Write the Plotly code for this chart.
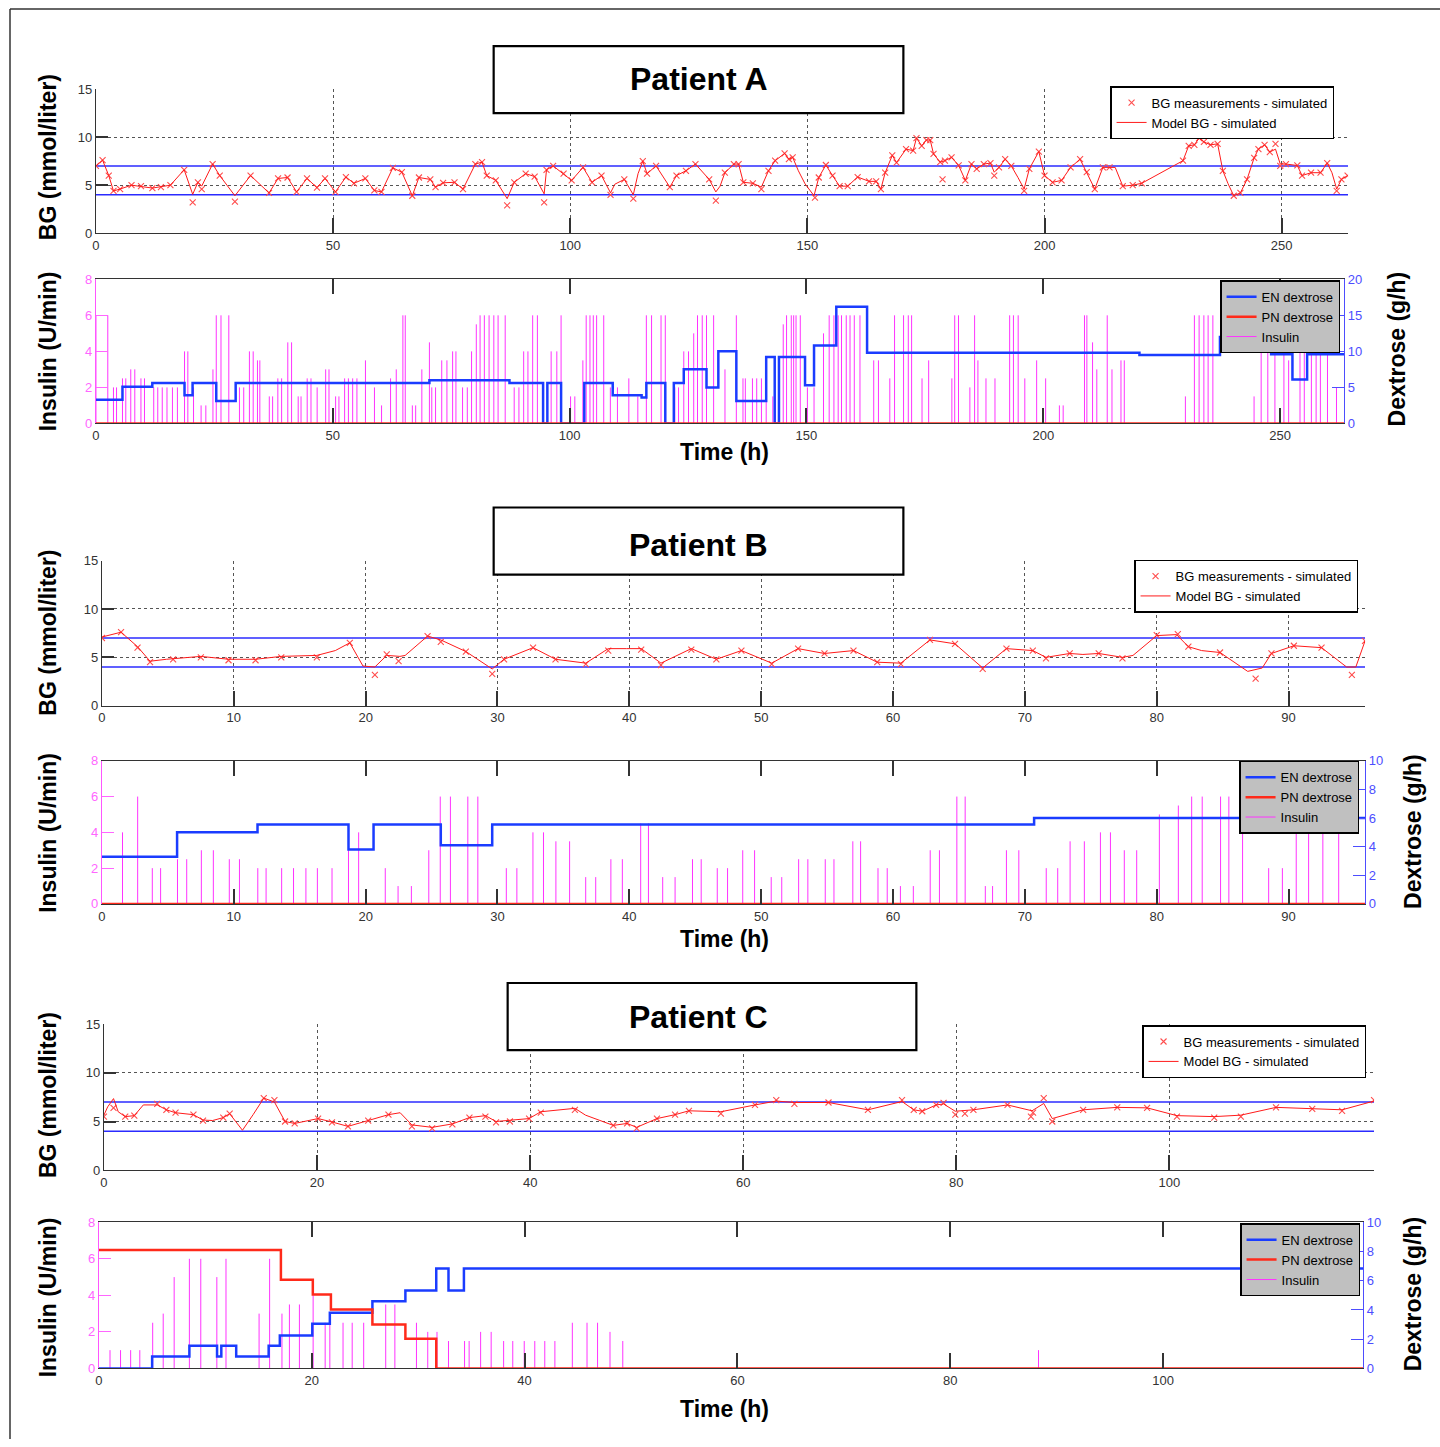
import plotly.graph_objects as go

W, H = 1440, 1447
# small calibration of the photographed page against reference pixel positions
Y_SCALE, Y_SHIFT, X_SHIFT = 0.9886, 8.0, 3.0
FONT_NARROW = "Liberation Sans Narrow, Arial Narrow, Liberation Sans, Arial, sans-serif"
FONT_BOLD = "Liberation Sans, Arial, Helvetica, sans-serif"

BG_LOW, BG_HIGH = 4, 7
BG_TICKS = [0, 5, 10, 15]
INS_TICKS = [0, 2, 4, 6, 8]

# ---------------- Patient A ----------------
a_bg_t = [0, 1.4, 2.7, 3.7, 5.1, 7.5, 11.9, 15.7, 18.6, 20.4, 21.5, 22.3, 24.6, 26.1, 29.3, 32.6, 36.5, 38.4, 40.4, 42.3,
          44.5, 46.6, 48.3, 50.5, 52.7, 54.4, 56.8, 58.7, 60.2, 62.6, 64.5, 66.7, 68.1, 70.5, 71.6, 73.2, 75.6, 77.4, 80.0, 81.4,
          82.4, 84.3, 86.7, 88.2, 90.6, 92.5, 94.5, 95.0, 96.4, 98.6, 100.3, 102.7, 104.6, 106.6, 108.5, 109.4, 111.4, 113.3, 114.3, 115.3,
          116.2, 118.1, 121.0, 122.4, 124.4, 126.4, 127.3, 129.3, 130.7, 131.6, 132.6, 134.5, 135.5, 136.5, 138.5, 140.3, 141.8, 143.2, 145.2, 146.1,
          146.9, 148.1, 149.5, 151.4, 152.4, 153.9, 155.3, 156.8, 158.5, 160.6, 163.0, 164.5, 165.5, 166.4, 167.9, 168.8, 170.8, 172.3, 173.0, 174.1,
          175.1, 175.9, 176.6, 178.0, 179.0, 180.4, 181.9, 183.3, 184.6, 185.7, 187.2, 188.6, 189.4, 190.4, 191.7, 193.0, 194.4, 195.7, 196.8, 198.8,
          200.0, 201.7, 203.6, 205.5, 207.5, 208.9, 210.6, 212.3, 213.7, 214.9, 216.5, 218.6, 220.5, 229.2, 230.4, 231.6, 232.6, 233.6, 235.0, 236.5,
          237.6, 238.7, 239.9, 241.3, 242.7, 244.2, 245.1, 246.4, 247.5, 248.7, 249.7, 250.9, 253.3, 254.3, 256.2, 258.2, 259.6, 260.6, 261.6, 262.6,
          263.9]
a_bg_v = [7.0, 7.6, 6.0, 4.4, 4.6, 5.0, 4.7, 5.0, 6.6, 4.05, 5.3, 4.9, 7.2, 6.0, 3.9, 6.0, 4.2, 5.7, 5.8, 4.3,
          5.7, 4.75, 5.7, 4.3, 5.85, 5.2, 5.7, 4.45, 4.3, 6.8, 6.35, 3.9, 5.8, 5.6, 4.8, 5.25, 5.3, 4.6, 7.2, 7.4,
          6.0, 5.5, 3.6, 5.3, 6.2, 5.9, 4.1, 6.6, 7.0, 6.2, 5.5, 6.85, 5.3, 6.0, 4.2, 5.1, 5.6, 4.0, 6.2, 7.5,
          6.2, 7.0, 4.8, 6.0, 6.5, 7.2, 6.7, 5.6, 4.3, 4.9, 6.3, 7.2, 7.2, 5.3, 5.2, 4.8, 6.5, 7.55, 8.3, 7.7,
          7.9, 6.5, 5.15, 3.9, 5.8, 7.1, 6.0, 4.9, 4.9, 5.85, 5.4, 5.4, 4.6, 6.3, 8.1, 7.35, 8.75, 8.6, 9.9, 9.1,
          9.7, 9.7, 8.25, 7.4, 7.55, 7.9, 7.05, 5.5, 7.2, 6.7, 7.2, 7.3, 6.35, 6.85, 7.7, 7.0, 5.8, 4.6, 6.7, 8.5,
          6.0, 5.3, 5.5, 6.85, 7.7, 6.35, 4.6, 6.85, 6.85, 6.85, 4.9, 5.0, 5.2, 7.55, 9.1, 9.2, 9.9, 9.5, 9.2, 9.3,
          6.5, 5.15, 3.9, 4.2, 5.6, 7.85, 8.75, 9.2, 8.45, 8.75, 7.2, 7.2, 7.05, 6.0, 6.3, 6.3, 7.3, 6.3, 4.6, 5.6,
          6.0]
a_meas_t = [0, 1.4, 2.7, 3.7, 5.1, 7.5, 9.5, 11.9, 13.7, 15.7, 18.6, 20.4, 21.5, 22.3, 24.6, 26.1, 29.3, 32.6, 36.5, 38.4,
            40.4, 42.3, 44.5, 46.6, 48.3, 50.5, 52.7, 54.4, 56.8, 58.7, 60.2, 62.6, 64.5, 66.7, 68.1, 70.5, 71.6, 73.2, 75.6, 77.4,
            80.0, 81.4, 82.4, 84.3, 86.7, 88.2, 90.6, 92.5, 94.5, 95.0, 96.4, 98.6, 100.3, 102.7, 104.6, 106.6, 108.5, 111.4, 113.3, 115.3,
            116.2, 118.1, 121.0, 122.4, 124.4, 126.4, 129.3, 130.7, 132.6, 134.5, 135.5, 136.5, 138.5, 140.3, 141.8, 143.2, 145.2, 146.1, 146.9, 151.6,
            152.4, 153.9, 155.3, 156.8, 158.5, 160.6, 163.0, 164.5, 165.5, 166.4, 167.9, 168.8, 170.8, 172.3, 173.0, 174.1, 175.1, 175.9, 176.6, 178.0,
            178.5, 179.0, 180.4, 181.9, 183.3, 184.6, 185.7, 187.2, 188.6, 189.4, 190.4, 191.7, 193.0, 195.7, 196.8, 198.8, 200.0, 201.7, 203.6, 205.5,
            207.5, 208.9, 210.6, 212.3, 213.7, 216.5, 218.6, 220.5, 229.2, 230.4, 231.6, 232.6, 233.6, 235.0, 236.5, 237.6, 239.9, 241.3, 242.7, 244.2,
            245.1, 246.4, 247.5, 248.7, 249.7, 250.9, 253.3, 254.3, 256.2, 258.2, 259.6, 261.6, 262.6, 263.9]
a_meas_v = [7.0, 7.6, 6.0, 4.4, 4.6, 5.0, 4.9, 4.7, 4.8, 5.0, 6.6, 3.2, 5.3, 4.6, 7.2, 6.0, 3.3, 6.0, 4.2, 5.7,
            5.8, 4.3, 5.7, 4.75, 5.7, 4.3, 5.85, 5.2, 5.7, 4.45, 4.3, 6.8, 6.35, 3.9, 5.8, 5.6, 4.8, 5.25, 5.3, 4.6,
            7.2, 7.4, 6.0, 5.5, 2.9, 5.3, 6.2, 5.9, 3.2, 6.6, 7.0, 6.2, 5.5, 6.85, 5.3, 6.0, 4.0, 5.6, 3.6, 7.5,
            6.2, 7.0, 4.8, 6.0, 6.5, 7.2, 5.6, 3.4, 6.3, 7.2, 7.2, 5.3, 5.2, 4.6, 6.5, 7.55, 8.3, 7.7, 7.9, 3.7,
            5.8, 7.1, 6.0, 4.9, 4.9, 5.85, 5.4, 5.4, 4.6, 6.3, 8.1, 7.35, 8.75, 8.6, 9.9, 9.1, 9.7, 9.7, 8.25, 7.4,
            5.6, 7.55, 7.9, 7.05, 5.5, 7.2, 6.7, 7.2, 7.3, 6.0, 6.85, 7.7, 7.0, 4.4, 6.7, 8.5, 6.0, 5.3, 5.5, 6.85,
            7.7, 6.35, 4.6, 6.85, 6.85, 4.9, 5.0, 5.2, 7.55, 9.1, 9.2, 9.9, 9.5, 9.2, 9.3, 6.5, 3.9, 4.2, 5.6, 7.85,
            8.75, 9.2, 8.45, 9.3, 7.0, 7.2, 7.05, 6.0, 6.3, 6.3, 7.3, 4.4, 5.6, 6.0]
a_en_t = [0, 5.6, 11.9, 18.7, 20.4, 25.4, 29.5, 70.4, 87.3, 94.4, 95.3, 98.2, 103.1, 109.1, 115.2, 116.2, 120.2, 122.0,
          124.1, 128.9, 131.4, 135.2, 141.5, 143.3, 144.2, 149.7, 151.6, 156.3, 162.8, 220.3, 237.3, 248.1, 252.6, 255.7, 263.5]
a_en_v = [3.3, 5.1, 5.6, 3.9, 5.6, 3.1, 5.6, 6.0, 5.6, 0, 5.6, 0, 5.6, 3.9, 3.6, 5.6, 0, 5.6,
          7.5, 5.0, 10.0, 3.1, 9.2, 0, 9.2, 5.3, 10.8, 16.2, 9.8, 9.5, 12.0, 9.6, 6.1, 9.6, 9.6]
a_pn_t = [0, 263.5]
a_pn_v = [0, 0]
a_ins_t = [0.0, 2.5, 3.7, 4.35, 5.6, 6.3, 7.35, 8.2, 9.5, 10.25, 12.2, 13.05, 14.0, 15.0, 16.15, 17.2, 18.7, 19.4, 20.6, 22.2,
           23.2, 24.7, 25.4, 26.4, 28.05, 30.3, 31.2, 32.4, 33.2, 34.1, 34.6, 36.6, 37.3, 38.4, 39.2, 40.5, 41.3, 42.7, 43.3, 44.6,
           45.4, 46.7, 48.5, 49.2, 50.6, 51.3, 52.5, 53.3, 54.2, 55.1, 56.9, 58.8, 60.3, 62.2, 63.4, 64.8, 65.3, 66.8, 67.5, 68.8,
           70.4, 70.9, 71.7, 73.0, 74.1, 75.3, 76.0, 77.4, 78.4, 79.3, 80.3, 81.1, 82.0, 83.0, 84.0, 84.9, 86.4, 88.3, 89.3, 90.3,
           91.2, 92.2, 93.2, 96.1, 97.3, 98.2, 100.2, 101.1, 102.8, 103.5, 104.3, 105.0, 105.7, 107.2, 108.6, 110.1, 112.5, 114.4, 116.2, 117.3,
           119.3, 120.2, 122.2, 123.0, 124.1, 125.1, 126.2, 127.0, 128.0, 128.9, 130.4, 132.8, 135.2, 136.6, 137.1, 138.6, 139.5, 140.5, 141.5, 142.9,
           145.1, 145.8, 146.8, 147.3, 147.8, 148.7, 150.2, 151.6, 153.6, 154.8, 155.8, 156.7, 157.4, 158.4, 159.2, 160.1, 161.3, 164.2, 165.2, 167.6,
           168.6, 170.5, 171.5, 172.2, 174.4, 175.8, 180.7, 181.3, 182.1, 184.5, 185.5, 186.2, 187.9, 189.8, 192.9, 193.7, 194.7, 196.1, 198.6, 200.5,
           203.4, 204.2, 208.7, 209.2, 210.4, 211.3, 213.5, 214.5, 216.4, 217.1, 230.0, 231.9, 232.9, 233.9, 234.8, 235.8, 244.5, 246.0, 247.4, 248.9,
           250.8, 251.8, 254.2, 255.1, 256.6, 257.6, 258.5, 260.0, 261.9]
a_ins_h = [6, 6, 2, 2, 2.5, 2.5, 3, 3, 2.5, 2.5, 2, 2, 2, 2, 2, 2, 4, 4, 2, 1,
           1, 3, 6, 6, 6, 2, 2, 4, 4, 3.5, 3.5, 1.5, 1.5, 2.5, 2.5, 4.5, 4.5, 1.5, 1.5, 2.5,
           2.5, 2, 3, 3, 1.5, 1.5, 2.5, 2.5, 2.5, 2.5, 3.5, 2, 1, 2.5, 3, 6, 6, 1, 1, 3,
           4.5, 2, 2, 3.5, 3.5, 4, 4, 2, 2, 4, 5.5, 6, 6, 6, 6, 6, 6, 2, 2, 4,
           4, 6, 6, 4, 4, 6, 1.5, 1.5, 3.5, 6, 6, 6, 6, 6, 2, 2, 2.5, 1.5, 6, 6,
           6, 6, 2, 2, 4, 4, 5, 6, 6, 6, 6, 3, 6, 2.5, 2.5, 2.5, 2.5, 2.5, 2.5, 1.5,
           5.5, 6, 6, 6, 6, 6, 2, 2, 5, 6, 6, 6, 6, 6, 6, 6, 6, 3.5, 3.5, 2.5,
           6, 6, 6, 6, 2.5, 3.5, 2.5, 6, 6, 2, 6, 3.5, 2.5, 2.5, 6, 6, 6, 2.5, 3.5, 2.5,
           1, 1, 6, 6, 4.5, 3, 6, 3, 3.5, 3.5, 1.5, 6, 6, 6, 6, 6, 1.5, 4, 6, 6,
           4, 3.5, 6, 6, 4, 6, 6, 6, 2]

# ---------------- Patient B ----------------
b_bg_t = [0, 1.45, 2.7, 3.65, 4.9, 7.5, 9.6, 11.65, 13.6, 16.3, 17.7, 18.8, 19.8, 20.7, 21.6, 22.6, 23.0, 24.7, 25.7, 27.6,
          29.6, 30.5, 32.7, 34.4, 36.7, 38.4, 39.8, 40.9, 42.4, 44.7, 46.6, 48.5, 50.8, 52.8, 54.8, 57.0, 58.8, 60.6, 62.8, 64.7,
          66.8, 68.6, 70.6, 71.6, 73.4, 74.4, 75.6, 77.4, 78.2, 80.0, 81.5, 82.4, 83.4, 84.8, 86.9, 88.0, 88.7, 90.4, 92.5, 94.4,
          95.1, 95.8]
b_bg_v = [7.1, 7.6, 6.1, 4.6, 4.8, 5.1, 4.8, 4.8, 5.1, 5.2, 5.7, 6.5, 4.1, 4.0, 5.2, 5.1, 5.2, 7.2, 6.8, 5.6,
          3.8, 4.8, 6.0, 4.8, 4.4, 5.9, 5.9, 5.9, 4.4, 5.9, 4.8, 5.7, 4.4, 5.9, 5.4, 5.7, 4.5, 4.4, 6.8, 6.4,
          3.9, 5.9, 5.7, 5.0, 5.4, 5.3, 5.4, 5.0, 5.2, 7.25, 7.35, 6.1, 5.7, 5.5, 3.55, 3.9, 5.4, 6.2, 6.0, 4.0,
          4.0, 6.7]
b_meas_t = [0, 1.45, 2.7, 3.65, 5.4, 7.5, 9.6, 11.65, 13.6, 16.3, 18.8, 20.7, 21.6, 22.5, 24.7, 25.7, 27.6, 29.6, 30.5, 32.7,
            34.4, 36.7, 38.4, 40.9, 42.4, 44.7, 46.6, 48.5, 50.8, 52.8, 54.8, 57.0, 58.8, 60.6, 62.8, 64.7, 66.8, 68.6, 70.6, 71.6,
            73.4, 75.6, 77.4, 80.0, 81.6, 82.4, 84.8, 87.5, 88.7, 90.4, 92.5, 94.8, 95.8]
b_meas_v = [7.0, 7.6, 6.0, 4.5, 4.8, 5.0, 4.7, 4.7, 5.0, 5.0, 6.5, 3.2, 5.3, 4.6, 7.2, 6.6, 5.6, 3.3, 4.8, 6.0,
            4.8, 4.3, 5.7, 5.8, 4.2, 5.8, 4.8, 5.7, 4.3, 5.9, 5.4, 5.7, 4.5, 4.3, 6.8, 6.4, 3.8, 5.9, 5.7, 4.9,
            5.4, 5.4, 4.9, 7.3, 7.4, 6.1, 5.5, 2.8, 5.4, 6.2, 6.0, 3.2, 6.7]
b_en_t = [0, 5.7, 11.8, 18.7, 20.6, 25.7, 29.6, 70.7, 95.8]
b_en_v = [3.3, 5.0, 5.55, 3.8, 5.55, 4.1, 5.55, 6.0, 6.0]
b_pn_t = [0, 95.8]
b_pn_v = [0, 0]
b_ins_t = [1.56, 2.71, 3.82, 4.45, 5.73, 6.43, 7.54, 8.45, 9.66, 10.43, 11.82, 12.45, 13.63, 14.53, 15.47, 16.34, 17.45, 18.7, 19.47, 21.49,
           22.46, 23.47, 24.79, 25.66, 26.43, 27.75, 28.51, 30.67, 31.47, 32.69, 33.49, 34.43, 35.47, 36.69, 37.45, 38.6, 39.47, 40.86, 41.45, 42.53,
           43.47, 44.79, 45.45, 46.67, 47.45, 48.6, 49.5, 50.76, 51.56, 52.84, 53.54, 54.86, 55.52, 56.95, 57.54, 58.86, 59.56, 60.56, 61.54, 62.82,
           63.52, 64.84, 65.47, 67.0, 67.55, 68.6, 69.54, 71.62, 72.49, 73.43, 74.51, 75.73, 76.49, 77.54, 78.48, 80.2, 81.64, 82.65, 83.45, 84.84,
           85.47, 86.51, 88.49, 89.53, 90.58, 91.52, 92.6, 93.8]
b_ins_h = [4, 6, 2, 2, 2.5, 2.5, 3, 3, 2.5, 2.5, 2, 2, 2, 2, 2, 2, 2, 3, 4, 2,
           1, 1, 3, 6, 6, 6, 6, 2, 2, 4, 4, 3.5, 3.5, 1.5, 1.5, 2.5, 2.5, 4.5, 4.5, 1.5,
           1.5, 2.5, 2.5, 2, 2, 3, 3, 1.5, 1.5, 2.5, 2.5, 2.5, 2.5, 3.5, 3.5, 2, 2, 1, 1, 3,
           3, 6, 6, 1, 1, 3, 3, 2, 2, 3.5, 3.5, 4, 4, 3, 3, 5, 5.5, 6, 6, 6,
           6, 6, 2, 2, 4, 4, 4, 6]

# ---------------- Patient C ----------------
c_bg_t = [0, 0.35, 0.9, 1.34, 2.0, 2.85, 3.7, 5.0, 5.86, 6.72, 8.4, 9.3, 10.2, 11.2, 11.8, 13.0, 14.0, 15.0, 16.0, 17.0,
          17.9, 20.1, 21.4, 22.9, 24.8, 26.7, 27.8, 28.9, 30.8, 32.7, 34.3, 35.8, 36.8, 38.1, 39.9, 41.0, 42.0, 44.2, 45.2, 47.8,
          49.1, 50.0, 51.9, 53.6, 54.9, 57.9, 61.1, 63.1, 64.8, 68.0, 71.7, 74.9, 76.0, 76.8, 78.1, 78.8, 79.9, 81.6, 84.8, 87.1,
          88.2, 89.0, 91.9, 95.1, 97.9, 100.7, 104.2, 106.7, 110.0, 113.4, 116.2, 119.2]
c_bg_v = [5.65, 6.5, 7.35, 6.0, 5.5, 5.6, 6.7, 6.7, 6.2, 5.9, 5.7, 5.15, 5.1, 5.4, 5.8, 4.1, 5.7, 7.4, 7.0, 5.0,
          4.8, 5.3, 4.95, 4.5, 5.1, 5.7, 5.9, 4.65, 4.4, 4.75, 5.4, 5.6, 5.0, 5.1, 5.3, 6.0, 6.1, 6.35, 5.65, 4.6,
          4.8, 4.4, 5.3, 5.7, 6.1, 6.0, 6.7, 7.1, 6.95, 6.95, 6.2, 7.05, 6.2, 6.05, 6.7, 6.8, 6.05, 6.2, 6.7, 6.1,
          6.85, 5.3, 6.2, 6.45, 6.4, 5.6, 5.5, 5.65, 6.45, 6.35, 6.2, 7.1]
c_meas_t = [0, 0.9, 2.0, 2.85, 5.0, 5.86, 6.72, 8.4, 9.3, 11.2, 11.8, 15.0, 16.0, 17.0, 17.9, 20.1, 21.4, 22.9, 24.8, 26.7,
            28.9, 30.8, 32.7, 34.3, 35.8, 36.8, 38.1, 39.9, 41.0, 44.2, 47.8, 49.1, 50.0, 51.9, 53.6, 54.9, 57.9, 61.1, 63.1, 64.8,
            68.0, 71.7, 74.9, 76.0, 76.8, 78.1, 78.8, 79.9, 80.8, 81.6, 84.8, 87.0, 87.2, 88.2, 89.0, 91.9, 95.1, 97.9, 100.7, 104.2,
            106.7, 110.0, 113.4, 116.2, 119.2]
c_meas_v = [5.5, 6.4, 5.5, 5.6, 6.8, 6.2, 5.9, 5.7, 5.1, 5.4, 5.8, 7.4, 7.2, 5.0, 4.8, 5.3, 4.9, 4.5, 5.1, 5.7,
            4.5, 4.3, 4.7, 5.4, 5.5, 4.9, 5.0, 5.3, 5.9, 6.2, 4.6, 4.8, 4.3, 5.3, 5.7, 6.1, 5.8, 6.7, 7.2, 6.8,
            6.95, 6.2, 7.2, 6.2, 6.05, 6.7, 6.9, 5.7, 5.8, 6.2, 6.7, 5.5, 5.9, 7.4, 5.0, 6.2, 6.45, 6.4, 5.5, 5.4,
            5.5, 6.45, 6.3, 6.1, 7.2]
c_en_t = [0, 5.0, 8.5, 11.1, 11.5, 12.9, 15.95, 17.0, 20.05, 21.7, 25.7, 28.8, 31.7, 32.85, 34.3, 118.8]
c_en_v = [0, 0.82, 1.55, 0.82, 1.55, 0.82, 1.55, 2.26, 3.06, 3.81, 4.59, 5.34, 6.83, 5.34, 6.83, 6.83]
c_pn_t = [0, 17.1, 20.1, 21.8, 25.7, 28.8, 31.7, 118.8]
c_pn_v = [8.1, 6.07, 5.05, 4.04, 3.01, 2.03, 0, 0]
c_ins_t = [1.04, 2.03, 2.98, 3.84, 5.05, 6.04, 7.07, 8.5, 9.57, 11.08, 11.94, 15.05, 16.04, 17.2, 17.9, 18.84, 20.13, 21.26, 21.7, 22.94,
           23.8, 24.88, 26.95, 27.81, 29.84, 30.9, 31.77, 32.85, 34.36, 34.79, 35.87, 36.86, 38.03, 38.89, 39.97, 40.96, 41.9, 42.85, 44.49, 45.87,
           46.86, 48.03, 49.23, 88.3]
c_ins_h = [1, 1, 1, 1, 2.5, 3, 5, 6, 6, 5, 6, 3, 6, 3, 3.5, 3.5, 4, 2.5, 2.5, 2.5,
           2.5, 2.5, 3.5, 3.5, 2.5, 2, 2, 1.5, 1.5, 1.5, 2, 2, 1.5, 1.5, 1.5, 1.5, 1.5, 1.5, 2.5, 2.5,
           2.5, 2, 1.5, 1]

patients = [
    dict(name="Patient A", bg=(a_bg_t, a_bg_v), meas=(a_meas_t, a_meas_v), en=(a_en_t, a_en_v), pn=(a_pn_t, a_pn_v),
         ins=(a_ins_t, a_ins_h), bg_xmax=264, ins_xmax=263.5, xticks=[0, 50, 100, 150, 200, 250],
         dex_range=[0, 20], dex_ticks=[0, 5, 10, 15, 20],
         bg_box=(95, 1348, 90, 234), ins_box=(95, 1344, 280, 424),
         title_box=(493, 903, 47, 114), title_c=(698, 80),
         leg1=(1334, 87), leg2=(1340, 281),
         lab_bg=(47, 158), lab_ins=(47, 352), lab_dex=(1397, 350), lab_time=(724, 453)),
    dict(name="Patient B", bg=(b_bg_t, b_bg_v), meas=(b_meas_t, b_meas_v), en=(b_en_t, b_en_v), pn=(b_pn_t, b_pn_v),
         ins=(b_ins_t, b_ins_h), bg_xmax=95.8, ins_xmax=95.8, xticks=[0, 10, 20, 30, 40, 50, 60, 70, 80, 90],
         dex_range=[0, 10], dex_ticks=[0, 2, 4, 6, 8, 10],
         bg_box=(101, 1365, 561, 706), ins_box=(101, 1365, 761, 904),
         title_box=(493, 903, 508, 575), title_c=(698, 545),
         leg1=(1358, 560), leg2=(1359, 761),
         lab_bg=(47, 633), lab_ins=(47, 833), lab_dex=(1413, 832), lab_time=(724, 939)),
    dict(name="Patient C", bg=(c_bg_t, c_bg_v), meas=(c_meas_t, c_meas_v), en=(c_en_t, c_en_v), pn=(c_pn_t, c_pn_v),
         ins=(c_ins_t, c_ins_h), bg_xmax=119.2, ins_xmax=118.8, xticks=[0, 20, 40, 60, 80, 100],
         dex_range=[0, 10], dex_ticks=[0, 2, 4, 6, 8, 10],
         bg_box=(103, 1374, 1024, 1170), ins_box=(98, 1363, 1222, 1368),
         title_box=(507, 916, 983, 1050), title_c=(698, 1017),
         leg1=(1366, 1025), leg2=(1360, 1223),
         lab_bg=(47, 1095), lab_ins=(47, 1297), lab_dex=(1413, 1294), lab_time=(724, 1409)),
]


def px(x):
    dx = x - X_SHIFT * (1 - x / W)
    return dx / W


def py(y):
    dy = (y - Y_SHIFT) / Y_SCALE
    return 1 - dy / H


def stems(ts, hs):
    xs, ys = [], []
    for t, h in zip(ts, hs):
        xs += [t, t, None]
        ys += [0, h, None]
    return xs, ys


fig = go.Figure()
layout = dict(width=W, height=H, margin=dict(l=0, r=0, t=0, b=0), paper_bgcolor="white",
              plot_bgcolor="rgba(0,0,0,0)", showlegend=True)
shapes, annotations = [], []

tickfont = dict(family=FONT_NARROW, size=13, color="#333333")
RED, BLUE, MAG = "#ff1a1a", "#1a3cff", "#ff33ff"

for i, p in enumerate(patients):
    xb, xi = 2 * i + 1, 2 * i + 2
    yb, yi, yd = 3 * i + 1, 3 * i + 2, 3 * i + 3

    def nm(k, a):
        return a if k == 1 else f"{a}{k}"
    xb_ref, xi_ref = nm(xb, "x"), nm(xi, "x")
    yb_ref, yi_ref, yd_ref = nm(yb, "y"), nm(yi, "y"), nm(yd, "y")
    leg_bg, leg_ins = nm(2 * i + 1, "legend"), nm(2 * i + 2, "legend")

    for thr in (BG_LOW, BG_HIGH):
        fig.add_trace(go.Scatter(x=[0, p["bg_xmax"]], y=[thr, thr], mode="lines",
                                 line=dict(color="#2b2bff", width=1.5), showlegend=False,
                                 hoverinfo="skip", xaxis=xb_ref, yaxis=yb_ref))
    fig.add_trace(go.Scatter(x=p["meas"][0], y=p["meas"][1], mode="markers",
                             name="BG measurements - simulated",
                             marker=dict(symbol="x-thin", size=6, color="#ff4d4d",
                                         line=dict(width=1.1, color="#ff4d4d")),
                             legend=leg_bg, xaxis=xb_ref, yaxis=yb_ref))
    fig.add_trace(go.Scatter(x=p["bg"][0], y=p["bg"][1], mode="lines", name="Model BG - simulated",
                             line=dict(color=RED, width=1), legend=leg_bg, xaxis=xb_ref, yaxis=yb_ref))

    sx, sy = stems(*p["ins"])
    fig.add_trace(go.Scatter(x=sx, y=sy, mode="lines", name="Insulin", line=dict(color=MAG, width=1),
                             legend=leg_ins, legendrank=3, xaxis=xi_ref, yaxis=yi_ref))
    fig.add_trace(go.Scatter(x=p["en"][0], y=p["en"][1], mode="lines", name="EN dextrose",
                             line=dict(color=BLUE, width=2.5, shape="hv"),
                             legend=leg_ins, legendrank=1, xaxis=xi_ref, yaxis=yd_ref))
    fig.add_trace(go.Scatter(x=p["pn"][0], y=p["pn"][1], mode="lines", name="PN dextrose",
                             line=dict(color="#ff2a1a", width=2.5, shape="hv"),
                             legend=leg_ins, legendrank=2, xaxis=xi_ref, yaxis=yd_ref))

    bx0, bx1, by0, by1 = p["bg_box"]
    ix0, ix1, iy0, iy1 = p["ins_box"]

    layout[nm(xb, "xaxis")] = dict(domain=[px(bx0), px(bx1)], range=[0, p["bg_xmax"]], anchor=yb_ref,
                                   tickvals=p["xticks"], showgrid=True, gridcolor="#555555", griddash="dot",
                                   gridwidth=1, showline=True, linecolor="#333333", linewidth=1.2,
                                   ticks="inside", ticklen=15, tickwidth=1.5, tickcolor="#333333",
                                   tickfont=tickfont, zeroline=False, fixedrange=True)
    layout[nm(yb, "yaxis")] = dict(domain=[py(by1), py(by0)], range=[0, 15], anchor=xb_ref,
                                   tickvals=BG_TICKS, showgrid=True, gridcolor="#555555", griddash="dot",
                                   gridwidth=1, showline=True, linecolor="#333333", linewidth=1.2,
                                   ticks="inside", ticklen=12, tickwidth=1.5, tickcolor="#333333",
                                   tickfont=tickfont, zeroline=False, fixedrange=True)
    layout[nm(xi, "xaxis")] = dict(domain=[px(ix0), px(ix1)], range=[0, p["ins_xmax"]], anchor=yi_ref,
                                   tickvals=p["xticks"], showgrid=False, showline=True, mirror="ticks",
                                   linecolor="#333333", linewidth=1.2, ticks="inside", ticklen=15,
                                   tickwidth=1.5, tickcolor="#333333", tickfont=tickfont,
                                   zeroline=False, fixedrange=True)
    layout[nm(yi, "yaxis")] = dict(domain=[py(iy1), py(iy0)], range=[0, 8], anchor=xi_ref,
                                   tickvals=INS_TICKS, showgrid=False, showline=True, linecolor="#ff55ff",
                                   linewidth=1.2, ticks="inside", ticklen=12, tickwidth=1.2,
                                   tickcolor="#ff66ff", tickfont=dict(family=FONT_NARROW, size=13, color="#ff66ff"),
                                   zeroline=False, fixedrange=True)
    layout[nm(yd, "yaxis")] = dict(overlaying=yi_ref, side="right", anchor=xi_ref, range=p["dex_range"],
                                   tickvals=p["dex_ticks"], showgrid=False, showline=True, linecolor="#4d4dff",
                                   linewidth=1.2, ticks="inside", ticklen=12, tickwidth=1.2,
                                   tickcolor="#4d4dff", tickfont=dict(family=FONT_NARROW, size=13, color="#4d4dff"),
                                   zeroline=False, fixedrange=True)

    layout[leg_bg] = dict(x=px(p["leg1"][0]), y=py(p["leg1"][1]), xanchor="right", yanchor="top",
                          bgcolor="white", bordercolor="black", borderwidth=1.5,
                          font=dict(family=FONT_NARROW, size=13, color="black"), tracegroupgap=0)
    layout[leg_ins] = dict(x=px(p["leg2"][0]), y=py(p["leg2"][1]), xanchor="right", yanchor="top",
                           bgcolor="#c0c0c0", bordercolor="black", borderwidth=1.5,
                           font=dict(family=FONT_NARROW, size=13, color="black"), tracegroupgap=0)

    tx0, tx1, ty0, ty1 = p["title_box"]
    shapes.append(dict(type="rect", xref="paper", yref="paper", x0=px(tx0), x1=px(tx1), y0=py(ty1), y1=py(ty0),
                       fillcolor="white", line=dict(color="black", width=2.2), layer="above"))
    annotations.append(dict(text=f"<b>{p['name']}</b>", x=px(p["title_c"][0]), y=py(p["title_c"][1]),
                            xref="paper", yref="paper", showarrow=False, xanchor="center", yanchor="middle",
                            font=dict(family=FONT_BOLD, size=32, color="black")))
    for key, txt, ang in (("lab_bg", "BG (mmol/liter)", -90), ("lab_ins", "Insulin (U/min)", -90),
                          ("lab_dex", "Dextrose (g/h)", -90), ("lab_time", "Time (h)", 0)):
        annotations.append(dict(text=f"<b>{txt}</b>", x=px(p[key][0]), y=py(p[key][1]), xref="paper", yref="paper",
                                showarrow=False, xanchor="center", yanchor="middle", textangle=ang,
                                font=dict(family=FONT_BOLD, size=23, color="black")))

# outer frame lines
shapes.append(dict(type="line", xref="paper", yref="paper", x0=px(9), x1=px(9), y0=0, y1=py(10),
                   line=dict(color="#333333", width=1.5)))
shapes.append(dict(type="line", xref="paper", yref="paper", x0=px(9), x1=1, y0=py(10), y1=py(10),
                   line=dict(color="#333333", width=1.5)))

layout["shapes"] = shapes
layout["annotations"] = annotations
fig.update_layout(**layout)

fig.write_html("out.html", config={"displayModeBar": False},
               post_script="document.body.style.margin='0';")
